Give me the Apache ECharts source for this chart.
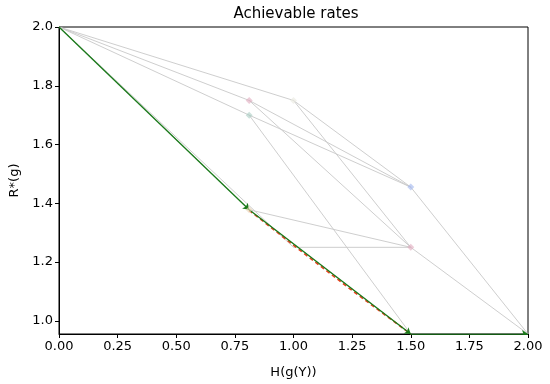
<!DOCTYPE html>
<html><head><meta charset="utf-8">
<script src="https://cdn.jsdelivr.net/npm/echarts@6/dist/echarts.min.js"></script>
<style>html,body{margin:0;padding:0;background:#fff}#c{width:550px;height:384px}</style>
</head><body><div id="c"></div>
<script>
// Achievable points: [H(g(Y)), R*(g)]
const pointX = [0.0, 0.811, 0.811, 1.0, 1.5, 1.5, 0.811, 1.0, 1.5, 2.0];
const pointY = [2.0, 1.75, 1.70, 1.75, 1.455, 1.25, 1.378, 1.25, 0.955, 0.955];
// gray transition edges (index pairs)
const edgeFrom = [0, 0, 0, 0, 0, 1, 1, 2, 2, 3, 3, 4, 5, 6, 7, 6];
const edgeTo   = [1, 2, 3, 6, 7, 4, 5, 4, 8, 4, 5, 9, 9, 5, 5, 8];
// green optimal path (point indices)
const pathIdx = [0, 6, 8, 9];
// red dashed lower bound
const boundX = [0.811, 1.0, 1.25, 1.5];
const boundY = [1.376, 1.257, 1.103, 0.955];
// visible markers
const markerIdx = [1, 2, 3, 4, 5, 6];
const markerColors = ['rgba(225,170,190,0.75)', 'rgba(170,205,195,0.75)', 'rgba(235,235,225,0.8)', 'rgba(165,185,240,0.8)', 'rgba(225,170,190,0.75)', 'rgba(235,215,185,0.8)'];
const xTicks = [0, 0.25, 0.5, 0.75, 1.0, 1.25, 1.5, 1.75, 2.0];
const yTicks = [1.0, 1.2, 1.4, 1.6, 1.8, 2.0];

const font = 'DejaVu Sans';
const series = [];
for (let i = 0; i < edgeFrom.length; i++) {
  const a = edgeFrom[i], b = edgeTo[i];
  series.push({type:'line', data:[[pointX[a],pointY[a]],[pointX[b],pointY[b]]], symbol:'none',
    lineStyle:{color:'#c8c8c8', width:0.9}, silent:true, z:1});
}
series.push({type:'line', data: boundX.map((x,i)=>[x,boundY[i]]), symbol:'none',
  lineStyle:{color:'#e8401c', width:1.6, type:[4,3]}, z:2});
const pathCoords = [];
for (let i = 0; i < pathIdx.length-1; i++) {
  const a = pathIdx[i], b = pathIdx[i+1];
  pathCoords.push({coords:[[pointX[a],pointY[a]],[pointX[b],pointY[b]]]});
}
series.push({type:'lines', coordinateSystem:'cartesian2d', data:pathCoords,
  symbol:['none','arrow'], symbolSize:[5,6], lineStyle:{color:'#1a7a1a', width:1.3, opacity:1}, z:3});
series.push({type:'scatter', data: markerIdx.map((k,i)=>({value:[pointX[k],pointY[k]], itemStyle:{color:markerColors[i]}})),
  symbol:'diamond', symbolSize:7, z:4});

const chart = echarts.init(document.getElementById('c'));
chart.setOption({
  animation:false,
  title:{text:'Achievable rates', left:291, top:2, textAlign:'center',
    textStyle:{fontFamily:font, fontSize:15, fontWeight:'normal', color:'#000'}},
  grid:{left:55, right:22, top:27, bottom:49, show:true, borderColor:'#000', borderWidth:1},
  xAxis:{type:'value', min:0, max:2, name:'H(g(Y))', nameLocation:'middle', nameGap:32,
    nameTextStyle:{fontFamily:font, fontSize:13, color:'#000'},
    axisLine:{show:true, onZero:false, lineStyle:{color:'#000'}},
    axisTick:{show:true, length:4, lineStyle:{color:'#000'}, customValues:xTicks},
    axisLabel:{fontFamily:font, fontSize:13, color:'#000', margin:6, customValues:xTicks, formatter:v=>v.toFixed(2)},
    splitLine:{show:false}},
  yAxis:{type:'value', min:0.955, max:2.0, name:'R*(g)', nameLocation:'middle', nameGap:38, nameRotate:90,
    nameTextStyle:{fontFamily:font, fontSize:13, color:'#000'},
    axisLine:{show:true, onZero:false, lineStyle:{color:'#000'}},
    axisTick:{show:true, length:4, lineStyle:{color:'#000'}, customValues:yTicks},
    axisLabel:{fontFamily:font, fontSize:13, color:'#000', margin:6, customValues:yTicks, formatter:v=>v.toFixed(1)},
    splitLine:{show:false}},
  series: series
});
</script></body></html>
